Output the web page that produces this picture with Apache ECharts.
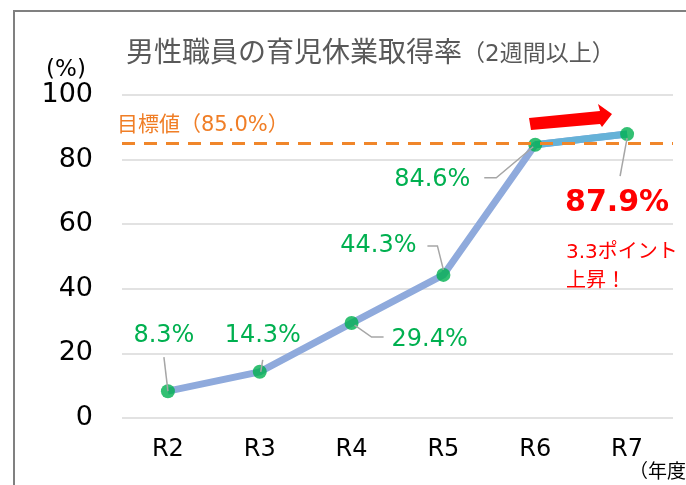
<!DOCTYPE html>
<html>
<head>
<meta charset="utf-8">
<script src="https://cdn.jsdelivr.net/npm/echarts@6/dist/echarts.min.js"></script>
<style>
html,body{margin:0;padding:0;background:#fff;}
#chart{width:686px;height:485px;}
</style>
</head>
<body>
<div id="chart"></div>
<script>
// ---- data ----
const categories = ['R2', 'R3', 'R4', 'R5', 'R6', 'R7'];
const rates = [8.3, 14.3, 29.4, 44.3, 84.6, 87.9];
const targetRate = 85.0;
const yMin = 0, yMax = 100, yStep = 20;
const titleMain = '男性職員の育児休業取得率';
const titleSub = '（2週間以上）';
const unitY = '(%)';
const unitX = '（年度）';
const gainText = '3.3ポイント\n上昇！';

// ---- layout of value labels (offset from point, leader points relative to point) ----
const labelOffsets = [[-4, -55], [3, -36], [78, 17], [-65, -29], [-103, 35], [-10, 69]];
const leaderPts = [
  [[-4, -34], [0, 0]],
  [[3, -12], [1, 0]],
  [[3, 2], [20, 14], [32, 14]],
  [[-16, -29], [-6, -29], [0, -5]],
  [[-51, 33], [-39, 33], [-2, 2]],
  [[0, 4], [-7, 42]]
];

const FONT = "'DejaVu Sans', 'Noto Sans CJK JP', sans-serif";
const chart = echarts.init(document.getElementById('chart'), null, {renderer: 'canvas'});
const lastIdx = rates.length - 1;

const option = {
  animation: false,
  textStyle: {fontFamily: FONT},
  title: {
    left: 121, top: 36,
    text: '{a|' + titleMain + '}{b|' + titleSub + '}',
    textStyle: {
      fontWeight: 'normal',
      rich: {
        a: {fontSize: 28, color: '#595959', fontFamily: FONT, fontWeight: 'normal'},
        b: {fontSize: 23, color: '#595959', fontFamily: FONT, fontWeight: 'normal'}
      }
    }
  },
  grid: {left: 122, right: 13, top: 95, bottom: 67, outerBoundsMode: 'none'},
  xAxis: {
    type: 'category',
    data: categories,
    boundaryGap: true,
    axisLine: {show: false},
    axisTick: {show: false},
    axisLabel: {fontSize: 24, color: '#000', margin: 20, fontFamily: FONT}
  },
  yAxis: {
    type: 'value', min: yMin, max: yMax, interval: yStep,
    axisLine: {show: false},
    axisTick: {show: false},
    axisLabel: {fontSize: 27, color: '#000', margin: 29, fontFamily: FONT},
    splitLine: {lineStyle: {color: '#D9D9D9', width: 1.5}}
  },
  series: [
    {
      type: 'line', data: rates, z: 2,
      symbol: 'none',
      lineStyle: {color: '#8FAADC', width: 7},
      silent: true
    },
    {
      type: 'line', z: 3,
      data: rates.map((v, i) => (i >= lastIdx - 1 ? v : '-')),
      symbol: 'none',
      lineStyle: {color: '#66B2D8', width: 7},
      silent: true,
      markLine: {
        silent: true,
        symbol: 'none',
        data: [{yAxis: targetRate}],
        lineStyle: {color: '#F0862A', type: [13, 9], width: 3},
        label: {
          show: true,
          position: 'insideStartTop',
          distance: [-5, 7],
          formatter: '目標値（' + targetRate.toFixed(1) + '%）',
          color: '#F07E26',
          fontSize: 21,
          fontFamily: FONT
        }
      }
    },
    {
      type: 'scatter', z: 4,
      data: rates,
      symbol: 'circle', symbolSize: 14,
      itemStyle: {color: '#00B050'},
      silent: true
    },
    {
      type: 'custom', z: 5,
      data: rates.map((v, i) => [i, v]),
      silent: true,
      renderItem: function (params, api) {
        const i = params.dataIndex;
        const p = api.coord([api.value(0), api.value(1)]);
        const off = labelOffsets[i];
        const pts = leaderPts[i].map(d => [p[0] + d[0], p[1] + d[1]]);
        const isLast = i === lastIdx;
        return {
          type: 'group',
          children: [
            {type: 'polyline', shape: {points: pts},
             style: {stroke: '#A6A6A6', lineWidth: 1.5, fill: null}},
            {type: 'text', x: p[0] + off[0], y: p[1] + off[1],
             style: {
               text: rates[i].toFixed(1) + '%',
               fill: isLast ? '#FF0000' : '#00B050',
               font: (isLast ? 'bold 30px ' : '24px ') + FONT,
               align: 'center', verticalAlign: 'middle'
             }}
          ]
        };
      }
    }
  ],
  graphic: [
    {type: 'rect', shape: {x: 14, y: 11, width: 700, height: 520},
     style: {fill: null, stroke: '#808080', lineWidth: 2}, z: 100, silent: true},
    {type: 'text', x: 66, y: 70,
     style: {text: unitY, font: '23px ' + FONT, fill: '#000', align: 'center', verticalAlign: 'middle'}},
    {type: 'text', x: 629, y: 473,
     style: {text: unitX, font: '19px ' + FONT, fill: '#000', align: 'left', verticalAlign: 'middle'}},
    {type: 'text', x: 566, y: 267,
     style: {text: gainText, font: '20px ' + FONT, fill: '#FF0000', align: 'left', verticalAlign: 'middle', lineHeight: 29}},
    {type: 'polygon', z: 50,
     shape: {points: [[529, 118], [600, 111], [598, 104], [612, 114], [602, 127], [600, 124], [531, 130]]},
     style: {fill: '#FF0000'}}
  ]
};
chart.setOption(option);
</script>
</body>
</html>
